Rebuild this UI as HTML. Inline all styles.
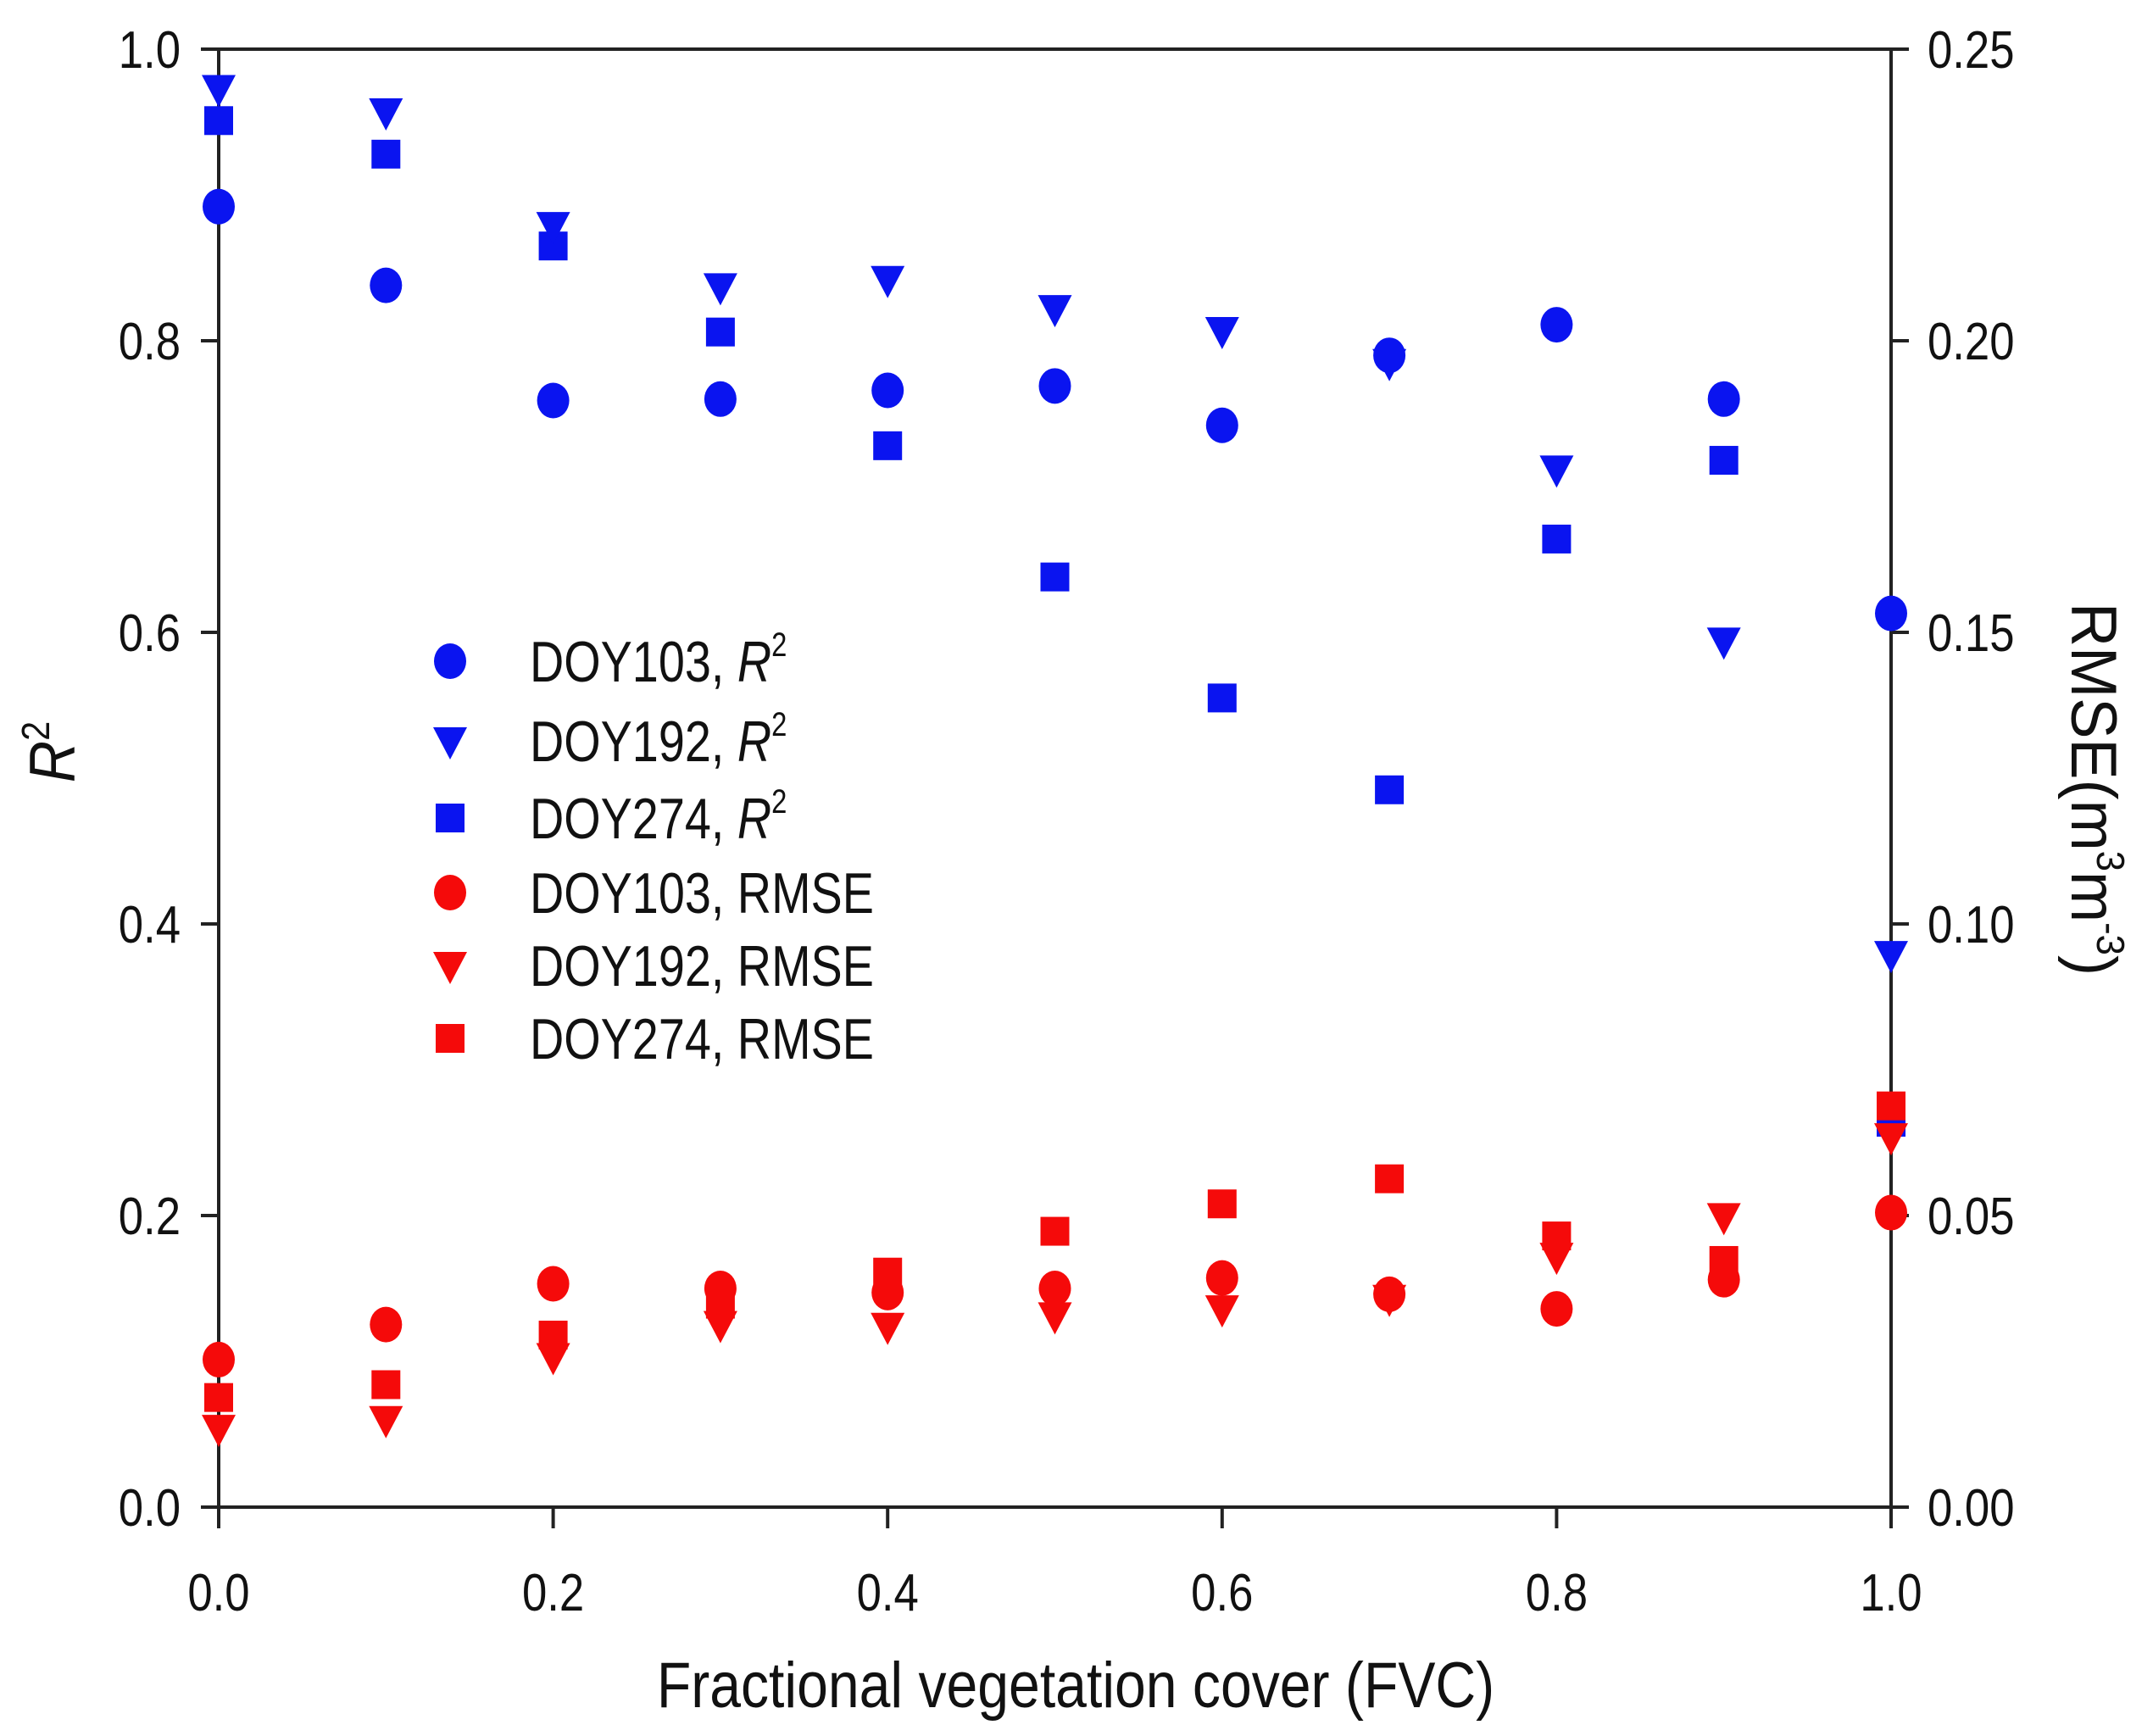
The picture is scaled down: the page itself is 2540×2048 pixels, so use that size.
<!DOCTYPE html>
<html><head><meta charset="utf-8"><style>
body{margin:0;background:#fff}
svg text{font-family:"Liberation Sans Narrow","Liberation Sans",sans-serif;font-stretch:condensed;fill:#111}
</style></head><body>
<svg id="chart" width="2540" height="2043" viewBox="0 0 2540 2043" xmlns="http://www.w3.org/2000/svg">
<g id="axes"></g>
<g id="marks"></g>
<g id="legend"></g>
</svg>
<script>
const fvc=[0,0.1,0.2,0.3,0.4,0.5,0.6,0.7,0.8,0.9,1.0];
const r2Doy103=[0.892,0.838,0.759,0.760,0.766,0.769,0.742,0.790,0.811,0.760,0.613];
const r2Doy192=[0.973,0.957,0.879,0.837,0.842,0.822,0.807,0.785,0.712,0.594,0.379];
const r2Doy274=[0.951,0.928,0.865,0.806,0.728,0.638,0.555,0.492,0.664,0.718,0.264];
const rmseDoy103=[0.0253,0.0313,0.0383,0.0375,0.0368,0.0375,0.0393,0.0365,0.034,0.039,0.0505];
const rmseDoy192=[0.0135,0.015,0.0258,0.0313,0.031,0.0328,0.034,0.0358,0.043,0.0498,0.0635];
const rmseDoy274=[0.0188,0.021,0.0295,0.0348,0.0403,0.0473,0.052,0.0563,0.0465,0.0423,0.0688];
const xTicks=["0.0","0.2","0.4","0.6","0.8","1.0"];
const yTicks=["0.0","0.2","0.4","0.6","0.8","1.0"];
const y2Ticks=["0.00","0.05","0.10","0.15","0.20","0.25"];

const X0=258,X1=2231,Y0=1778,Y1=58;
const xs=v=>X0+(X1-X0)*v;
const ys=v=>Y0-(Y0-Y1)*v;
const ys2=v=>Y0-(Y0-Y1)*v/0.25;
const NS="http://www.w3.org/2000/svg";
function mk(tag,attrs,parent){const e=document.createElementNS(NS,tag);for(const k in attrs)e.setAttribute(k,attrs[k]);parent.appendChild(e);return e;}
function txt(x,y,sx,size,anchor,parent,rot){
 const tr=`translate(${x},${y})`+(rot?` rotate(${rot})`:'')+` scale(${sx},1)`;
 return mk('text',{x:0,y:0,'font-size':size,'text-anchor':anchor,transform:tr},parent);
}
const axes=document.getElementById('axes'),marks=document.getElementById('marks'),legend=document.getElementById('legend');
const st={stroke:"#222","stroke-width":4,fill:"none"};
let fr=mk('path',Object.assign({d:`M${X0},${Y0} L${X0},${Y1} L${X1},${Y1} L${X1},${Y0} L${X0},${Y0}`},st),axes);


xTicks.forEach(t=>{const x=xs(parseFloat(t));
 let l=mk('line',Object.assign({x1:x,x2:x,y1:Y0,y2:Y0+25},st),axes);
 
 
 let tx=txt(x,1900,0.85,62,'middle',axes);tx.textContent=t;
 
 });
yTicks.forEach(t=>{const y=ys(parseFloat(t));
 let l=mk('line',Object.assign({x1:X0-21,x2:X0,y1:y,y2:y},st),axes);
 
 
 let tx=txt(213,y+22,0.85,62,'end',axes);tx.textContent=t;
 
 });
y2Ticks.forEach(t=>{const y=ys2(parseFloat(t));
 let l=mk('line',Object.assign({x1:X1,x2:X1+21,y1:y,y2:y},st),axes);
 
 
 let tx=txt(2274,y+22,0.85,62,'start',axes);tx.textContent=t;
 
 });
let xt=txt(1269,2014,0.87,76,'middle',axes);xt.textContent="Fractional vegetation cover (FVC)";


let yt=txt(88,887,0.9,76,'middle',axes,-90);
yt.innerHTML='<tspan font-style="italic">R</tspan><tspan font-size="46" dy="-30">2</tspan>';


let y2t=txt(2444,931,0.95,76,'middle',axes,90);
y2t.innerHTML='RMSE(m<tspan font-size="46" dy="-30">3</tspan><tspan dy="30">m</tspan><tspan font-size="46" dy="-30">-3</tspan><tspan dy="30">)</tspan>';



function marker(shape,cx,cy,color,parent){
 if(shape==='c')return mk('ellipse',{cx:cx,cy:cy,rx:19,ry:21,fill:color},parent);
 if(shape==='s')return mk('rect',{x:cx-17,y:cy-17,width:34,height:34,fill:color},parent);
 return mk('path',{d:`M${cx-20},${cy-16} L${cx+20},${cy-16} L${cx},${cy+22} Z`,fill:color},parent);
}
const blue="#0a14f0",red="#f50a0a";
const series=[
 {n:'doy274-r2',d:r2Doy274,s:'s',c:blue,f:ys},
 {n:'doy192-r2',d:r2Doy192,s:'t',c:blue,f:ys},
 {n:'doy103-r2',d:r2Doy103,s:'c',c:blue,f:ys},
 {n:'doy103-rmse',d:rmseDoy103,s:'c',c:red,f:ys2},
 {n:'doy192-rmse',d:rmseDoy192,s:'t',c:red,f:ys2},
 {n:'doy274-rmse',d:rmseDoy274,s:'s',c:red,f:ys2}];
series.forEach(se=>{se.d.forEach((v,i)=>{const m=marker(se.s,xs(fvc[i]),se.f(v),se.c,marks);
 
 });});

const leg=[['c',blue,'DOY103, ',true],['t',blue,'DOY192, ',true],['s',blue,'DOY274, ',true],['c',red,'DOY103, RMSE',false],['t',red,'DOY192, RMSE',false],['s',red,'DOY274, RMSE',false]];
const legY=[780,874,965,1053,1139,1225];
leg.forEach((L,i)=>{const g=mk('g',{},legend);
 
 
 marker(L[0],531,legY[i],L[1],g);
 const t=txt(625,legY[i]+24,0.82,68,'start',g);
 t.innerHTML=L[2]+(L[3]?'<tspan font-style="italic">R</tspan><tspan font-size="40" dy="-30">2</tspan>':'');});
</script>
</body></html>
